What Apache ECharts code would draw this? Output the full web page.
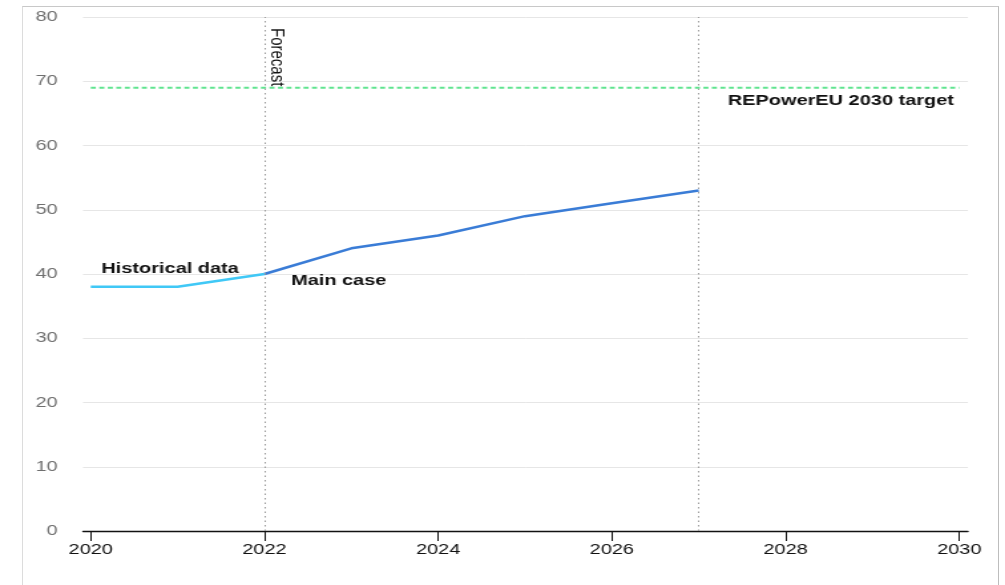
<!DOCTYPE html>
<html>
<head>
<meta charset="utf-8">
<title>Renewable capacity outlook</title>
<script src="https://cdn.jsdelivr.net/npm/echarts@6/dist/echarts.min.js"></script>
<style>
  html, body { margin: 0; padding: 0; background: #fff; overflow: hidden; }
  body { width: 1005px; height: 585px; position: relative; }
  #frame {
    position: absolute; left: 22px; top: 6px; width: 975px; height: 600px;
    border-left: 1px solid #dcdcdc; border-top: 1px solid #c8c8c8; border-right: 1px solid #bdbdbd;
    pointer-events: none;
  }
  /* chart is laid out narrower and widened horizontally */
  #chart {
    position: absolute; left: 0; top: 0; width: 756px; height: 585px;
    transform: scaleX(1.3294); transform-origin: 0 0;
  }
</style>
</head>
<body>
<div id="chart"></div>
<div id="frame"></div>
<script>
// Historical data
const historyYears = [2020, 2021, 2022];
const historyValues = [38, 38, 40];
// Main case forecast
const mainYears = [2022, 2023, 2024, 2025, 2026, 2027];
const mainValues = [40, 44, 46, 49, 51, 53];
// REPowerEU 2030 target
const targetYears = [2020, 2030];
const targetValues = [69, 69];
// Axis ticks
const xTicks = [2020, 2022, 2024, 2026, 2028, 2030];
const forecastStart = 2022;
const forecastEnd = 2027;
const yMax = 80;

const FONT = '"Liberation Sans", Arial, sans-serif';

const chart = echarts.init(document.getElementById('chart'), null, { renderer: 'canvas' });

const pairs = (xs, ys) => xs.map((x, i) => [x, ys[i]]);

const historyData = pairs(historyYears, historyValues).map((d, i) => i === 0 ? {
  value: d,
  label: { show: true, formatter: 'Historical data', position: 'right', offset: [3, -18],
           fontWeight: 'bold', fontSize: 15, color: '#111', fontFamily: FONT }
} : d);

const mainData = pairs(mainYears, mainValues).map((d, i) => i === 0 ? {
  value: d,
  label: { show: true, formatter: 'Main case', position: 'right', offset: [15, 7],
           fontWeight: 'bold', fontSize: 15, color: '#111', fontFamily: FONT }
} : d);

const targetData = pairs(targetYears, targetValues).map((d, i) => i === targetYears.length - 1 ? {
  value: d,
  label: { show: true, formatter: 'REPowerEU 2030 target', position: 'left', offset: [1, 13],
           fontWeight: 'bold', fontSize: 15, color: '#111', fontFamily: FONT }
} : d);

chart.setOption({
  animation: false,
  grid: { left: 62.4, right: 27.9, top: 17, bottom: 54, containLabel: false },
  xAxis: {
    type: 'value',
    min: 2019.91,
    max: 2030.1,
    splitLine: { show: false },
    axisLine: { show: true, lineStyle: { color: '#111', width: 1.3 } },
    axisTick: { show: true, length: 10, customValues: xTicks, lineStyle: { color: '#111', width: 1 } },
    axisLabel: { customValues: xTicks, formatter: v => String(v), margin: 11,
                 fontSize: 15, color: '#111', fontFamily: FONT }
  },
  yAxis: {
    type: 'value',
    min: 0,
    max: yMax,
    interval: 10,
    axisLine: { show: false },
    axisTick: { show: false },
    axisLabel: { margin: 19, fontSize: 15, color: '#6f6f6f', fontFamily: FONT, padding: [4, 0, 0, 0] },
    splitLine: { lineStyle: { color: '#e6e6e6', width: 1 } }
  },
  series: [
    {
      name: 'REPowerEU 2030 target',
      type: 'line',
      data: targetData,
      symbol: 'circle', symbolSize: 0, showSymbol: true,
      lineStyle: { color: '#5fe48f', width: 2, type: [3.8, 2.6] },
      itemStyle: { color: '#5fe48f' },
      z: 2
    },
    {
      name: 'Historical data',
      type: 'line',
      data: historyData,
      symbol: 'circle', symbolSize: 0, showSymbol: true,
      lineStyle: { color: '#40c8f6', width: 2.5 },
      itemStyle: { color: '#40c8f6' },
      markLine: {
        silent: true,
        symbol: ['none', 'none'],
        label: { show: false },
        lineStyle: { color: '#9a9a9a', width: 1, type: [1.5, 3] },
        data: [{ xAxis: forecastStart }, { xAxis: forecastEnd }]
      },
      z: 3
    },
    {
      name: 'Main case',
      type: 'line',
      data: mainData,
      symbol: 'circle', symbolSize: 0, showSymbol: true,
      lineStyle: { color: '#3a7cd6', width: 2.5 },
      itemStyle: { color: '#3a7cd6' },
      z: 3
    }
  ]
});

// "Forecast" caption running down beside the forecast start line
const anchor = chart.convertToPixel({ gridIndex: 0 }, [forecastStart, yMax]);
chart.setOption({
  graphic: [{
    type: 'text',
    x: anchor[0] + 2,
    y: anchor[1] + 11,
    rotation: -Math.PI / 2,
    silent: true,
    style: {
      text: 'Forecast',
      fontSize: 15,
      fontFamily: FONT,
      fill: '#111',
      align: 'left',
      verticalAlign: 'bottom'
    }
  }]
});
</script>
</body>
</html>
